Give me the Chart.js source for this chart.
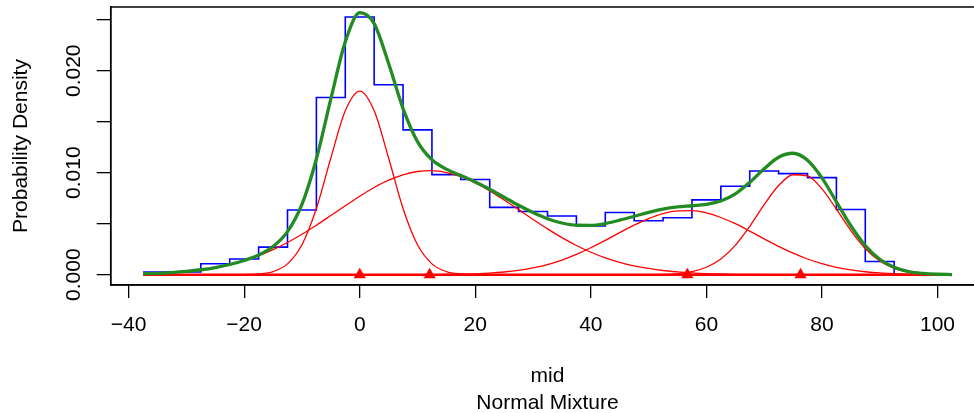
<!DOCTYPE html>
<html>
<head>
<meta charset="utf-8">
<script src="https://cdn.jsdelivr.net/npm/chart.js@4.4.1/dist/chart.umd.min.js"></script>
<style>
	html, body { margin: 0; padding: 0; background: #fff; overflow: hidden; }
	canvas { display: block; }
</style>
</head>
<body>
<canvas id="grafico" width="1000" height="413"></canvas>
<script>
// ---- dati ----
const xTicks = [-40, -20, 0, 20, 40, 60, 80, 100];
const xTickLabels = ["\u221240", "\u221220", "0", "20", "40", "60", "80", "100"];
const yTicks = [0, 0.005, 0.010, 0.015, 0.020, 0.025];
const yTickLabels = ["0.000", "", "0.010", "", "0.020", ""];

// istogramma: bordi delle classi e densità
const histEdges = [-37.5, -32.5, -27.5, -22.5, -17.5, -12.5, -7.5, -2.5, 2.5, 7.5, 12.5, 17.5, 22.5, 27.5,
	32.5, 37.5, 42.5, 47.5, 52.5, 57.5, 62.5, 67.5, 72.5, 77.5, 82.5, 87.5, 92.5];
const histDensity = [0.00026, 0.00026, 0.00107, 0.00154, 0.0027, 0.00635, 0.01738, 0.02527, 0.01862, 0.0142,
	0.00981, 0.00933, 0.0066, 0.0062, 0.00575, 0.00478, 0.0061, 0.00529, 0.00559, 0.00734,
	0.00867, 0.01017, 0.00991, 0.00952, 0.0064, 0.0013];

// curve: valori letti ogni 2.5 unità
const gridX = [-37.5, -35, -32.5, -30, -27.5, -25, -22.5, -20, -17.5, -15, -12.5, -10, -7.5, -5, -2.5,
	0, 2.5, 5, 7.5, 10, 12.5, 15, 17.5, 20, 22.5, 25, 27.5, 30, 32.5, 35, 37.5, 40, 42.5, 45, 47.5,
	50, 52.5, 55, 57.5, 60, 62.5, 65, 67.5, 70, 72.5, 75, 77.5, 80, 82.5, 85, 87.5, 90, 92.5, 95,
	97.5, 100, 102.5];
const comp1 = [0, 0, 0, 0, 0, 0, 0.000002, 0.000013, 0.00007, 0.0003, 0.00106, 0.00293, 0.00649, 0.01144, 0.01607,
	0.018, 0.01607, 0.01144, 0.00649, 0.00293, 0.00106, 0.0003, 0.00007, 0.000013, 0.000002, 0, 0, 0, 0, 0, 0, 0, 0, 0, 0,
	0, 0, 0, 0, 0, 0, 0, 0, 0, 0, 0, 0, 0, 0, 0, 0, 0, 0, 0,
	0, 0, 0];
const comp2 = [0.000085, 0.000137, 0.000213, 0.000326, 0.000485, 0.000704, 0.000997, 0.00138, 0.00186, 0.00246, 0.00316, 0.00396, 0.00485, 0.0058, 0.00676,
	0.0077, 0.00855, 0.00927, 0.0098, 0.01012, 0.0102, 0.01002, 0.00961, 0.009, 0.00822, 0.00733, 0.00638, 0.00542, 0.00449, 0.00363, 0.00286, 0.0022, 0.00166, 0.00122, 0.00087,
	0.00061, 0.00041, 0.00028, 0.00018, 0.00011, 0.00007, 0.00004, 0.00003, 0.00001, 0, 0, 0, 0, 0, 0, 0, 0, 0, 0,
	0, 0, 0];
const comp3 = [0, 0, 0, 0, 0, 0, 0, 0, 0, 0, 0, 0, 0, 0, 0,
	0, 0, 0, 0, 0, 0.000013, 0.000025, 0.000049, 0.000089, 0.000156, 0.000263, 0.000427, 0.000666, 0.000997, 0.001435, 0.001985, 0.00264, 0.00336, 0.00413, 0.00486,
	0.0055, 0.00599, 0.00625, 0.00628, 0.00606, 0.00561, 0.005, 0.00428, 0.00352, 0.00278, 0.00211, 0.00154, 0.00108, 0.00072, 0.00047, 0.00029, 0.00017, 0.0001, 0.000055,
	0.00003, 0.000015, 0.000007];
const comp4 = [0, 0, 0, 0, 0, 0, 0, 0, 0, 0, 0, 0, 0, 0, 0,
	0, 0, 0, 0, 0, 0, 0, 0, 0, 0, 0, 0, 0, 0, 0, 0, 0, 0, 0, 0,
	0.00001, 0.000035, 0.00011, 0.0003, 0.00073, 0.00154, 0.00288, 0.00474, 0.00686, 0.00874, 0.0098, 0.00968, 0.00841, 0.00643, 0.00433, 0.00257, 0.00134, 0.00062, 0.00025,
	0.00009, 0.00003, 0.00001];
const mixture = [0.000085, 0.000137, 0.000213, 0.000326, 0.000485, 0.000704, 0.000999, 0.001393, 0.00193, 0.00276, 0.00422, 0.00689, 0.01134, 0.01724, 0.02283,
	0.0257, 0.02462, 0.02071, 0.01629, 0.01305, 0.01127, 0.01035, 0.00973, 0.0091, 0.00838, 0.00759, 0.00681, 0.00609, 0.00549, 0.00507, 0.00485, 0.00484, 0.00502, 0.00535, 0.00573,
	0.00612, 0.00644, 0.00664, 0.00676, 0.0069, 0.00722, 0.00792, 0.00905, 0.01039, 0.01152, 0.01191, 0.01122, 0.00949, 0.00715, 0.0048, 0.00286, 0.00151, 0.00072, 0.0003,
	0.00012, 0.000045, 0.000017];

// medie delle componenti (triangoli) e linea di base
const means = [0, 12.1, 56.7, 76.3];
const baseRange = [-37.5, 102.5];

const X_MIN = -43.1, X_MAX = 108.1;
const Y_MIN = -0.00101, Y_MAX = 0.02625;

const FONT = '"Liberation Sans", Arial, Helvetica, sans-serif';

function punti(ys){
	return gridX.map((x, i) => ({ x: x, y: ys[i] }));
}

function puntiIstogramma(){
	const p = histDensity.map((d, i) => ({ x: histEdges[i], y: d }));
	p.push({ x: histEdges[histEdges.length - 1], y: 0 });
	return p;
}

function curva(ys, colore, spessore, ordine){
	return {
		data: punti(ys),
		borderColor: colore,
		borderWidth: spessore,
		pointRadius: 0,
		fill: false,
		cubicInterpolationMode: 'monotone',
		order: ordine
	};
}

// cornice del grafico come in R
const cornice = {
	id: 'cornice',
	beforeDatasetsDraw(chart){
		const a = chart.chartArea;
		const ctx = chart.ctx;
		ctx.save();
		ctx.strokeStyle = '#000';
		ctx.lineWidth = 1.5;
		ctx.strokeRect(a.left, a.top, a.right - a.left, a.bottom - a.top);
		ctx.restore();
	}
};

const datasets = [
	{
		data: means.map(m => ({ x: m, y: 0 })),
		showLine: false,
		pointStyle: 'triangle',
		pointRadius: 7,
		pointBackgroundColor: '#ff0000',
		pointBorderWidth: 0,
		order: 0
	},
	curva(mixture, '#228b22', 3.3, 1),
	curva(comp1, '#ff0000', 1.3, 2),
	curva(comp2, '#ff0000', 1.3, 2),
	curva(comp3, '#ff0000', 1.3, 2),
	curva(comp4, '#ff0000', 1.3, 2),
	{
		data: baseRange.map(x => ({ x: x, y: 0 })),
		borderColor: '#ff0000',
		borderWidth: 2.6,
		pointRadius: 0,
		order: 2
	},
	{
		data: puntiIstogramma(),
		borderColor: '#0000ff',
		borderWidth: 1.6,
		pointRadius: 0,
		stepped: 'before',
		order: 3
	}
];

new Chart(document.getElementById('grafico').getContext('2d'), {
	type: 'line',
	data: { datasets: datasets },
	plugins: [cornice],
	options: {
		responsive: false,
		animation: false,
		layout: { padding: { left: 0, right: 15.7, top: 5.7, bottom: 0 } },
		plugins: {
			legend: { display: false },
			tooltip: { enabled: false }
		},
		scales: {
			x: {
				type: 'linear',
				min: X_MIN,
				max: X_MAX,
				afterBuildTicks: s => { s.ticks = xTicks.map(v => ({ value: v })); },
				afterFit: s => { s.height = 128; s.paddingLeft = 0; s.paddingRight = 0; },
				ticks: {
					callback: (v, i) => xTickLabels[i],
					autoSkip: false,
					maxRotation: 0,
					padding: 14.7,
					color: '#000',
					font: { family: FONT, size: 21 }
				},
				grid: { drawOnChartArea: false, tickLength: 13, color: '#000', lineWidth: 1.3 },
				border: { display: true, color: '#000', width: 1.5 },
				title: {
					display: true,
					text: ['mid', 'Normal Mixture'],
					color: '#000',
					font: { family: FONT, size: 21, lineHeight: 27 / 21 },
					padding: { top: 0, bottom: -4.2 }
				}
			},
			y: {
				type: 'linear',
				min: Y_MIN,
				max: Y_MAX,
				afterBuildTicks: s => { s.ticks = yTicks.map(v => ({ value: v })); },
				afterFit: s => { s.width = 110.7; s.paddingTop = 0; s.paddingBottom = 0; },
				ticks: {
					callback: (v, i) => yTickLabels[i],
					autoSkip: false,
					minRotation: 90,
					maxRotation: 90,
					crossAlign: 'center',
					padding: -4,
					color: '#000',
					font: { family: FONT, size: 21 }
				},
				grid: { drawOnChartArea: false, tickLength: 14, color: '#000', lineWidth: 1.3 },
				border: { display: true, color: '#000', width: 1.5 },
				title: {
					display: true,
					text: 'Probability Density',
					color: '#000',
					font: { family: FONT, size: 21 },
					padding: { top: 8.6, bottom: 0 }
				}
			}
		}
	}
});
</script>
</body>
</html>
